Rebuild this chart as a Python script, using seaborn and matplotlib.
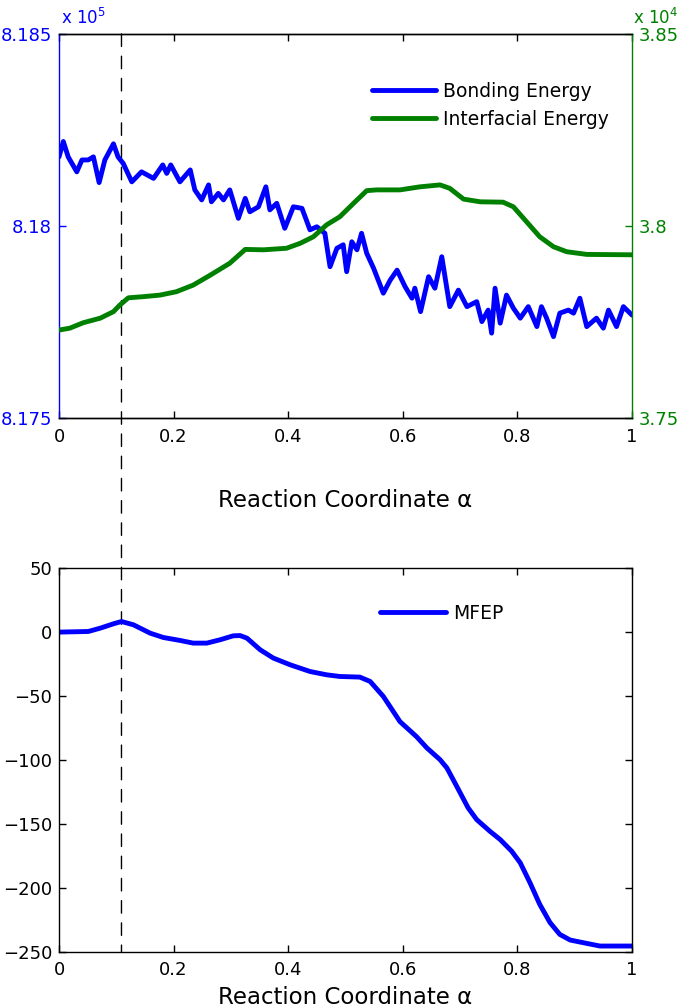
import matplotlib
matplotlib.use("Agg")
import matplotlib.pyplot as plt
from matplotlib.patches import ConnectionPatch
import numpy as np
import pandas as pd
import seaborn as sns

# ---------------- data ----------------
bond_alpha = [0.000, 0.0075, 0.016, 0.031, 0.040, 0.051, 0.060, 0.070, 0.080, 0.095,
              0.103, 0.112, 0.127, 0.144, 0.165, 0.181, 0.188, 0.195, 0.211, 0.229,
              0.237, 0.249, 0.261, 0.266, 0.278, 0.287, 0.298, 0.313, 0.325, 0.333,
              0.348, 0.361, 0.368, 0.380, 0.394, 0.409, 0.424, 0.438, 0.450, 0.464,
              0.473, 0.485, 0.496, 0.502, 0.511, 0.520, 0.528, 0.537, 0.549, 0.566,
              0.578, 0.590, 0.604, 0.616, 0.621, 0.631, 0.645, 0.656, 0.668, 0.682,
              0.697, 0.712, 0.729, 0.738, 0.749, 0.755, 0.761, 0.770, 0.781, 0.793,
              0.805, 0.819, 0.834, 0.842, 0.851, 0.863, 0.874, 0.889, 0.898, 0.909,
              0.921, 0.938, 0.950, 0.959, 0.973, 0.985, 1.000]
bond_energy = [818180, 818220, 818180, 818141, 818172, 818172, 818180, 818113, 818172, 818214,
               818180, 818163, 818115, 818141, 818124, 818159, 818137, 818159, 818115, 818146,
               818094, 818068, 818107, 818063, 818085, 818068, 818094, 818020, 818072, 818037,
               818050, 818102, 818042, 818059, 817994, 818050, 818046, 817990, 817998, 817981,
               817894, 817942, 817951, 817881, 817959, 817938, 817981, 817929, 817890, 817825,
               817859, 817885, 817842, 817812, 817838, 817777, 817868, 817838, 817920, 817790,
               817833, 817790, 817803, 817751, 817781, 817721, 817838, 817747, 817820, 817786,
               817760, 817790, 817738, 817790, 817760, 817712, 817773, 817781, 817773, 817812,
               817738, 817760, 817734, 817781, 817738, 817790, 817768]

inter_alpha = [0.000, 0.019, 0.042, 0.072, 0.095, 0.106, 0.121, 0.147, 0.176, 0.205,
               0.234, 0.264, 0.298, 0.325, 0.357, 0.397, 0.421, 0.444, 0.467, 0.490,
               0.514, 0.537, 0.554, 0.595, 0.630, 0.665, 0.682, 0.706, 0.735, 0.775,
               0.793, 0.816, 0.839, 0.863, 0.886, 0.921, 1.000]
inter_energy = [37729, 37734, 37748, 37760, 37777, 37794, 37813, 37816, 37820, 37829,
                37846, 37872, 37903, 37939, 37938, 37942, 37955, 37972, 38003, 38024,
                38059, 38092, 38094, 38094, 38102, 38107, 38098, 38070, 38063, 38062,
                38050, 38011, 37972, 37946, 37933, 37926, 37925]

mfep_alpha = [0.000, 0.051, 0.072, 0.095, 0.109, 0.130, 0.159, 0.182, 0.211, 0.234,
              0.258, 0.281, 0.304, 0.316, 0.328, 0.351, 0.374, 0.403, 0.438, 0.467,
              0.490, 0.525, 0.543, 0.566, 0.595, 0.624, 0.642, 0.665, 0.677, 0.691,
              0.714, 0.729, 0.752, 0.770, 0.790, 0.805, 0.822, 0.839, 0.857, 0.874,
              0.892, 0.915, 0.944, 1.000]
mfep_value = [0.0, 0.5, 3.1, 6.5, 8.3, 5.7, -0.8, -4.2, -6.5, -8.6,
              -8.6, -6.0, -2.9, -2.7, -4.7, -13.8, -20.3, -25.5, -30.8, -33.4,
              -34.7, -35.2, -38.6, -50.3, -70.0, -81.8, -90.6, -99.8, -106.3, -118.0,
              -137.5, -146.7, -155.8, -162.3, -171.4, -180.5, -196.1, -213.0, -227.3, -236.5,
              -240.9, -243.0, -245.6, -245.6]

saddle_alpha = 0.109

x_ticks = [0, 0.2, 0.4, 0.6, 0.8, 1]
x_ticklabels = ["0", "0.2", "0.4", "0.6", "0.8", "1"]
bond_ticks = [8.175, 8.18, 8.185]
bond_ticklabels = ["8.175", "8.18", "8.185"]
inter_ticks = [3.75, 3.8, 3.85]
inter_ticklabels = ["3.75", "3.8", "3.85"]
mfep_ticks = [-250, -200, -150, -100, -50, 0, 50]
mfep_ticklabels = ["\u2212250", "\u2212200", "\u2212150", "\u2212100", "\u221250", "0", "50"]
xlabel = "Reaction Coordinate \u03b1"

# ---------------- style ----------------
sns.set_theme(style="white")
plt.rcParams["font.family"] = ["DejaVu Sans"]
plt.rcParams["axes.linewidth"] = 1.0
plt.rcParams["text.color"] = "black"
plt.rcParams["axes.labelcolor"] = "black"
plt.rcParams["xtick.color"] = "black"
plt.rcParams["ytick.color"] = "black"

BLUE = (0, 0, 1)
GREEN = (0, 0.5, 0)
TICK_FS = 13
LABEL_FS = 16.5
LEG_FS = 13.5
LW = 3.5

fig = plt.figure(figsize=(6.8, 10.08), dpi=100)
ax1 = fig.add_axes([0.0868, 0.5853, 0.8426, 0.381])
ax2 = fig.add_axes([0.0868, 0.0559, 0.8426, 0.3804])
ax1b = ax1.twinx()
for a in (ax1, ax1b, ax2):
    a.set_facecolor("none")

bond_df = pd.DataFrame({"alpha": bond_alpha, "E": np.array(bond_energy) / 1e5})
inter_df = pd.DataFrame({"alpha": inter_alpha, "E": np.array(inter_energy) / 1e4})
mfep_df = pd.DataFrame({"alpha": mfep_alpha, "F": mfep_value})

sns.lineplot(data=bond_df, x="alpha", y="E", ax=ax1, color=BLUE, lw=LW,
             estimator=None, sort=False, label="Bonding Energy", legend=False)
sns.lineplot(data=inter_df, x="alpha", y="E", ax=ax1b, color=GREEN, lw=LW,
             estimator=None, sort=False, label="Interfacial Energy", legend=False)
sns.lineplot(data=mfep_df, x="alpha", y="F", ax=ax2, color=BLUE, lw=LW,
             estimator=None, sort=False, label="MFEP", legend=False)

# ---------------- top axes ----------------
ax1.set_xlim(0, 1)
ax1.set_ylim(8.175, 8.185)
ax1b.set_ylim(3.75, 3.85)
ax1.set_xticks(x_ticks)
ax1.set_xticklabels(x_ticklabels, fontsize=TICK_FS)
ax1.set_yticks(bond_ticks)
ax1.set_yticklabels(bond_ticklabels, fontsize=TICK_FS, color=BLUE)
ax1b.set_yticks(inter_ticks)
ax1b.set_yticklabels(inter_ticklabels, fontsize=TICK_FS, color=GREEN)
ax1.set_ylabel("")
ax1b.set_ylabel("")
ax1.set_xlabel(xlabel, fontsize=LABEL_FS, va="top", color="black")
ax1.xaxis.set_label_coords(0.5, -0.185)

ax1.tick_params(axis="x", direction="in", length=5, width=1, top=True, bottom=True,
                pad=7, colors="black")
ax1.tick_params(axis="y", direction="in", length=5, width=1, left=True, right=False,
                pad=5, colors=BLUE)
ax1b.tick_params(axis="y", direction="in", length=5, width=1, right=True, left=False,
                 pad=5, colors=GREEN)
for s in ["top", "bottom"]:
    ax1.spines[s].set_color("black")
ax1.spines["left"].set_color(BLUE)
ax1.spines["right"].set_visible(False)
ax1b.spines["left"].set_visible(False)
ax1b.spines["right"].set_color(GREEN)
ax1b.spines["top"].set_color("black")
ax1b.spines["bottom"].set_color("black")
for s in ax1.spines.values():
    s.set_linewidth(1)
for s in ax1b.spines.values():
    s.set_linewidth(1)

h1, l1 = ax1.get_legend_handles_labels()
h2, l2 = ax1b.get_legend_handles_labels()
ax1b.legend(h1 + h2, l1 + l2, loc="upper left", bbox_to_anchor=(0.546, 0.876),
            frameon=False, fontsize=LEG_FS, handlelength=3.4, handletextpad=0.4,
            labelspacing=0.5, borderpad=0, borderaxespad=0, labelcolor="black")

fig.text(61 / 680, 1 - 24 / 1008, r"x 10$^{5}$", color=BLUE, fontsize=12,
         ha="left", va="baseline")
fig.text(633 / 680, 1 - 24 / 1008, r"x 10$^{4}$", color=GREEN, fontsize=12,
         ha="left", va="baseline")

# ---------------- bottom axes ----------------
ax2.set_xlim(0, 1)
ax2.set_ylim(-250, 50)
ax2.set_xticks(x_ticks)
ax2.set_xticklabels(x_ticklabels, fontsize=TICK_FS)
ax2.set_yticks(mfep_ticks)
ax2.set_yticklabels(mfep_ticklabels, fontsize=TICK_FS)
ax2.set_ylabel("")
ax2.set_xlabel(xlabel, fontsize=LABEL_FS, va="top", color="black")
ax2.xaxis.set_label_coords(0.5, -0.09)
ax2.tick_params(axis="both", direction="in", length=5, width=1, top=True, bottom=True,
                left=True, right=True, colors="black")
ax2.tick_params(axis="x", pad=7)
ax2.tick_params(axis="y", pad=5)
for s in ax2.spines.values():
    s.set_color("black")
    s.set_linewidth(1)
ax2.legend(loc="upper left", bbox_to_anchor=(0.560, 0.907), frameon=False,
           fontsize=LEG_FS, handlelength=3.5, handletextpad=0.4,
           borderpad=0, borderaxespad=0, labelcolor="black")

# ---------------- dashed saddle line across both panels ----------------
con = ConnectionPatch(xyA=(saddle_alpha, 8.185), coordsA=ax1.transData,
                      xyB=(saddle_alpha, -250), coordsB=ax2.transData,
                      color="black", lw=1.0, linestyle=(0, (9, 7)), zorder=-1)
fig.add_artist(con)

fig.savefig("out.png", dpi=100)
